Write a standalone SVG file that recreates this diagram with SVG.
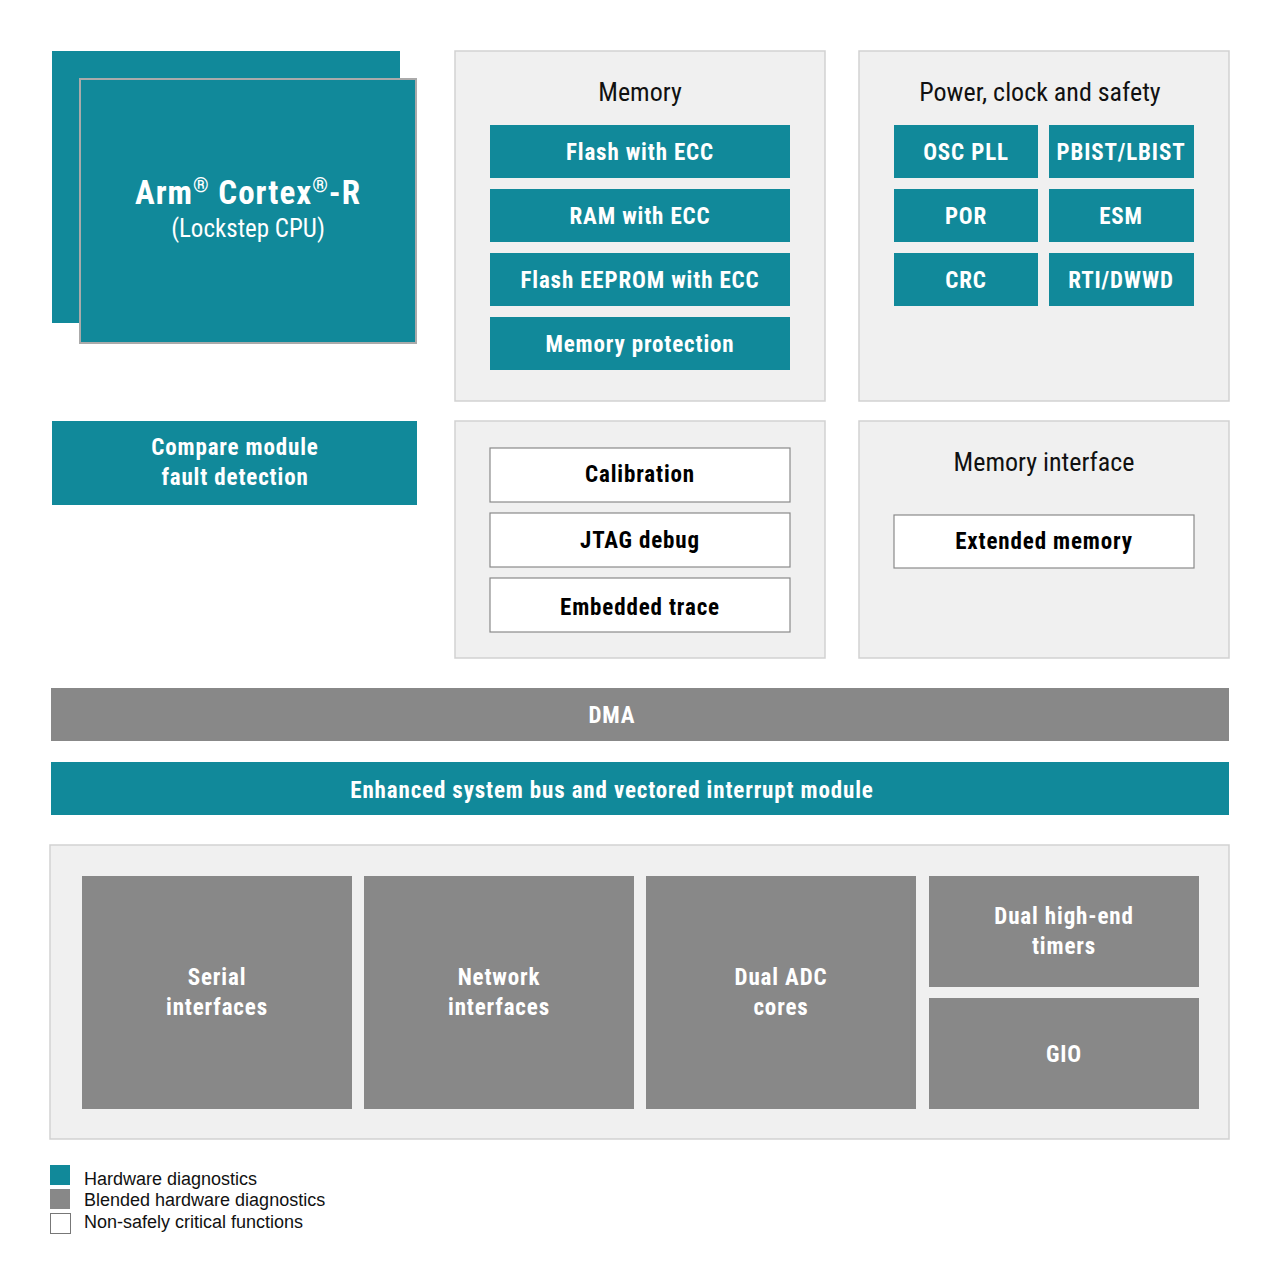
<svg xmlns="http://www.w3.org/2000/svg" width="1280" height="1280" viewBox="0 0 1280 1280">
<style>
.t{fill:#11899a}
.g{fill:#888888}
.p{fill:#f0f0f0;stroke:#d2d2d2;stroke-width:1.5}
.w{fill:#ffffff;stroke:#8a8a8a;stroke-width:1.2}
text{font-family:"Liberation Sans Narrow","Roboto Condensed","DejaVu Sans Condensed","Liberation Sans",sans-serif;font-stretch:condensed;text-anchor:middle}
.lb{font-size:23px;font-weight:bold;fill:#ffffff;letter-spacing:0.85px}
.lk{font-size:23px;font-weight:bold;fill:#000000;letter-spacing:0.85px}
.hd{font-size:26px;fill:#111111}
.lg{font-family:"Liberation Sans",Arial,sans-serif;font-stretch:normal;font-size:18px;fill:#111111;text-anchor:start}
</style>
<rect width="1280" height="1280" fill="#ffffff"/>

<g id="cpu">
<rect class="t" x="52" y="51" width="348" height="272"/>
<rect class="t" x="80" y="79" width="336" height="264" stroke="#aaaaaa" stroke-width="2"/>
<text x="248" y="204" style="font-size:33px;font-weight:bold;fill:#fff;letter-spacing:1px">Arm<tspan font-size="20" dy="-12">®</tspan><tspan dy="12"> Cortex</tspan><tspan font-size="20" dy="-12">®</tspan><tspan dy="12">-R</tspan></text>
<text x="248" y="237" style="font-size:25px;fill:#fff">(Lockstep CPU)</text>
</g>

<g id="compare">
<rect class="t" x="52" y="421" width="365" height="84"/>
<text class="lb" x="235" y="455">Compare module</text>
<text class="lb" x="235" y="485">fault detection</text>
</g>

<g id="memory">
<rect class="p" x="455" y="51" width="370" height="350"/>
<text class="hd" x="640" y="101">Memory</text>
<g id="flash"><rect class="t" x="490" y="125" width="300" height="53"/><text class="lb" x="640" y="160">Flash with ECC</text></g>
<g id="ram"><rect class="t" x="490" y="189" width="300" height="53"/><text class="lb" x="640" y="224">RAM with ECC</text></g>
<g id="eeprom"><rect class="t" x="490" y="253" width="300" height="53"/><text class="lb" x="640" y="288">Flash EEPROM with ECC</text></g>
<g id="memprot"><rect class="t" x="490" y="317" width="300" height="53"/><text class="lb" x="640" y="352">Memory protection</text></g>
</g>

<g id="power">
<rect class="p" x="859" y="51" width="370" height="350"/>
<text class="hd" x="1040" y="101">Power, clock and safety</text>
<g id="osc"><rect class="t" x="894" y="125" width="144" height="53"/><text class="lb" x="966" y="160">OSC PLL</text></g>
<g id="pbist"><rect class="t" x="1049" y="125" width="145" height="53"/><text class="lb" x="1121" y="160">PBIST/LBIST</text></g>
<g id="por"><rect class="t" x="894" y="189" width="144" height="53"/><text class="lb" x="966" y="224">POR</text></g>
<g id="esm"><rect class="t" x="1049" y="189" width="145" height="53"/><text class="lb" x="1121" y="224">ESM</text></g>
<g id="crc"><rect class="t" x="894" y="253" width="144" height="53"/><text class="lb" x="966" y="288">CRC</text></g>
<g id="rti"><rect class="t" x="1049" y="253" width="145" height="53"/><text class="lb" x="1121" y="288">RTI/DWWD</text></g>
</g>

<g id="debug">
<rect class="p" x="455" y="421" width="370" height="237"/>
<g id="calib"><rect class="w" x="490" y="448" width="300" height="54"/><text class="lk" x="640" y="482">Calibration</text></g>
<g id="jtag"><rect class="w" x="490" y="513" width="300" height="54"/><text class="lk" x="640" y="548">JTAG debug</text></g>
<g id="trace"><rect class="w" x="490" y="578" width="300" height="54"/><text class="lk" x="640" y="615">Embedded trace</text></g>
</g>

<g id="memif">
<rect class="p" x="859" y="421" width="370" height="237"/>
<text class="hd" x="1044" y="471">Memory interface</text>
<g id="extmem"><rect class="w" x="894" y="515" width="300" height="53"/><text class="lk" x="1044" y="549">Extended memory</text></g>
</g>

<g id="dma">
<rect class="g" x="51" y="688" width="1178" height="53"/>
<text class="lb" x="612" y="723">DMA</text>
</g>

<g id="bus">
<rect class="t" x="51" y="762" width="1178" height="53"/>
<text class="lb" x="612" y="798">Enhanced system bus and vectored interrupt module</text>
</g>

<g id="periph">
<rect class="p" x="50" y="845" width="1179" height="294"/>
<g id="serial"><rect class="g" x="82" y="876" width="270" height="233"/><text class="lb" x="217" y="985">Serial</text><text class="lb" x="217" y="1015">interfaces</text></g>
<g id="network"><rect class="g" x="364" y="876" width="270" height="233"/><text class="lb" x="499" y="985">Network</text><text class="lb" x="499" y="1015">interfaces</text></g>
<g id="adc"><rect class="g" x="646" y="876" width="270" height="233"/><text class="lb" x="781" y="985">Dual ADC</text><text class="lb" x="781" y="1015">cores</text></g>
<g id="timers"><rect class="g" x="929" y="876" width="270" height="111"/><text class="lb" x="1064" y="924">Dual high-end</text><text class="lb" x="1064" y="954">timers</text></g>
<g id="gio"><rect class="g" x="929" y="998" width="270" height="111"/><text class="lb" x="1064" y="1062">GIO</text></g>
</g>

<g id="connectors"></g>

<g id="legend">
<rect class="t" x="50" y="1165" width="20" height="20"/>
<rect class="g" x="50" y="1189" width="20" height="20"/>
<rect x="50.5" y="1213.5" width="20" height="20" fill="#fff" stroke="#777" stroke-width="1"/>
<text class="lg" x="84" y="1185">Hardware diagnostics</text>
<text class="lg" x="84" y="1206">Blended hardware diagnostics</text>
<text class="lg" x="84" y="1228">Non-safely critical functions</text>
</g>
</svg>
